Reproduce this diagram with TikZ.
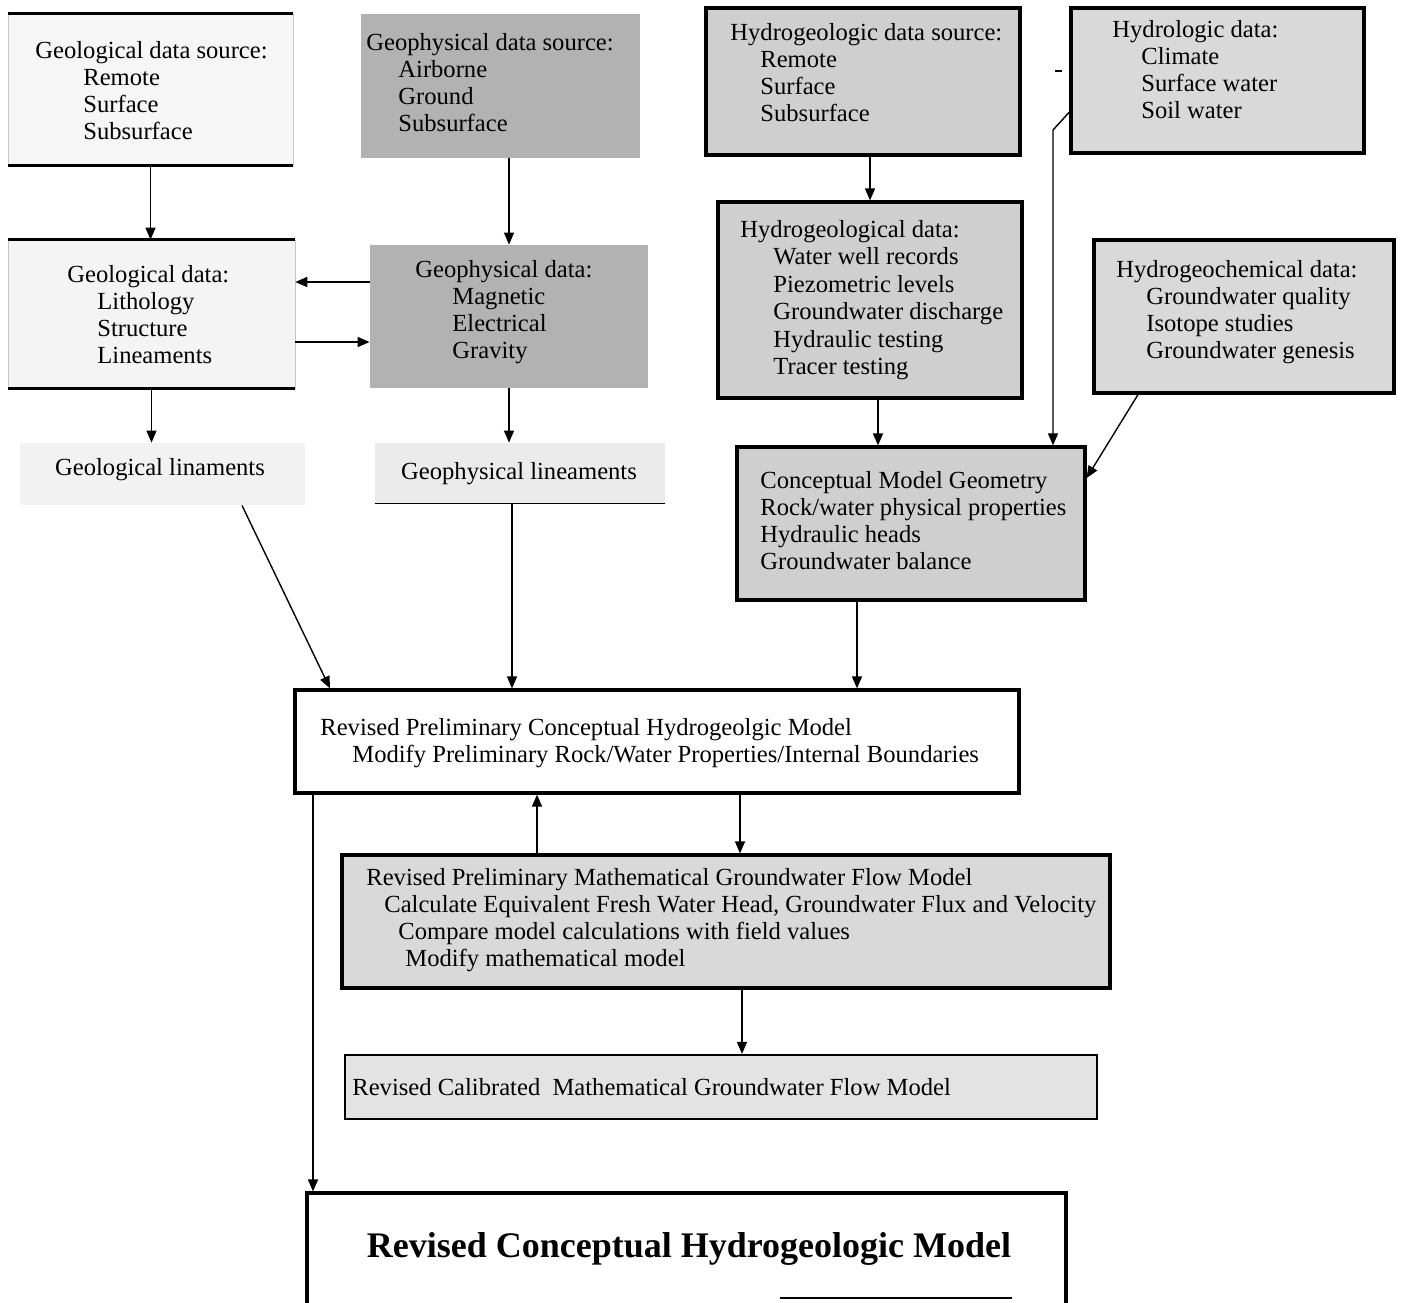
\documentclass[tikz,border=0pt]{standalone}
\usepackage{fontspec}
\setmainfont{Liberation Serif}
\usetikzlibrary{arrows.meta,fit}
\begin{document}
\begin{tikzpicture}[x=0.5pt,y=-0.5pt,
  box/.style={rectangle, inner sep=0pt},
  heavy/.style={draw=black, line width=1.6pt},
  txt/.style={inner sep=0pt, anchor=north west, align=left, font=\fontsize{12.3}{13.5}\selectfont},
  arr/.style={line width=0.7pt, -{Triangle[length=6pt,width=5pt]}},
  rule/.style={line width=1.4pt},
]
\useasboundingbox (0,0) rectangle (1401,1302);

% boxes
\node[box, fit={(8,14) (293,165)}, fill=gray!7, draw=gray!45, line width=0.3pt] (b1) {};
\node[box, fit={(361,14) (640,158)}, fill=gray!60] (b2) {};
\node[box, fit={(706,8) (1020,155)}, fill=gray!38, heavy] (b3) {};
\node[box, fit={(1071,8) (1364,153)}, fill=gray!30, heavy] (b4) {};
\node[box, fit={(8,240) (295,388)}, fill=gray!9, draw=gray!45, line width=0.3pt] (b5) {};
\node[box, fit={(370,245) (648,388)}, fill=gray!60] (b6) {};
\node[box, fit={(718,202) (1022,398)}, fill=gray!38, heavy] (b7) {};
\node[box, fit={(1094,240) (1394,393)}, fill=gray!30, heavy] (b8) {};
\node[box, fit={(20,443) (305,505)}, fill=gray!10] (b9) {};
\node[box, fit={(375,443) (665,503)}, fill=gray!16] (b10) {};
\node[box, fit={(737,447) (1085,600)}, fill=gray!38, heavy] (b11) {};
\node[box, fit={(295,690) (1019,793)}, fill=white, heavy] (b12) {};
\node[box, fit={(342,855) (1110,988)}, fill=gray!30, heavy] (b13) {};
\node[box, fit={(345,1055) (1097,1119)}, fill=gray!22, draw=black, line width=1.1pt] (b14) {};
\node[box, fit={(307,1193) (1066,1315)}, heavy] (b15) {};

% heavy top/bottom rules of the light boxes
\draw[rule] (b1.north west) -- (b1.north east);
\draw[rule] (b1.south west) -- (b1.south east);
\draw[rule] (b5.north west) -- (b5.north east);
\draw[rule] (b5.south west) -- (b5.south east);
\draw[line width=0.8pt] (b10.south west) -- (b10.south east);

% small marks seen in the reference
\draw[line width=1pt] (1055,71) -- (1062,71);
\draw[line width=1pt] (780,1298) -- (1012,1298);

% texts (first-line tops)
\node[txt] (t1) at (35,41) {Geological data source:\\\hspace*{24pt}Remote\\\hspace*{24pt}Surface\\\hspace*{24pt}Subsurface};
\node[txt] (t2) at (366,33) {Geophysical data source:\\\hspace*{16pt}Airborne\\\hspace*{16pt}Ground\\\hspace*{16pt}Subsurface};
\node[txt] (t3) at (730,23) {Hydrogeologic data source:\\\hspace*{15pt}Remote\\\hspace*{15pt}Surface\\\hspace*{15pt}Subsurface};
\node[txt] (t4) at (1112,20) {Hydrologic data:\\\hspace*{14.5pt}Climate\\\hspace*{14.5pt}Surface water\\\hspace*{14.5pt}Soil water};
\node[txt] (t5) at (67,265) {Geological data:\\\hspace*{15pt}Lithology\\\hspace*{15pt}Structure\\\hspace*{15pt}Lineaments};
\node[txt] (t6) at (415,260) {Geophysical data:\\\hspace*{18.5pt}Magnetic\\\hspace*{18.5pt}Electrical\\\hspace*{18.5pt}Gravity};
\node[txt, font=\fontsize{12.3}{13.7}\selectfont] (t7) at (740,220) {Hydrogeological data:\\\hspace*{16.5pt}Water well records\\\hspace*{16.5pt}Piezometric levels\\\hspace*{16.5pt}Groundwater discharge\\\hspace*{16.5pt}Hydraulic testing\\\hspace*{16.5pt}Tracer testing};
\node[txt] (t8) at (1116,260) {Hydrogeochemical data:\\\hspace*{15pt}Groundwater quality\\\hspace*{15pt}Isotope studies\\\hspace*{15pt}Groundwater genesis};
\node[txt, anchor=base] (t9) at (160,475) {Geological linaments};
\node[txt, anchor=base] (t10) at (519,479) {Geophysical lineaments};
\node[txt] (t11) at (760,471) {Conceptual Model Geometry\\Rock/water physical properties\\Hydraulic heads\\Groundwater balance};
\node[txt] (t12) at (320,718) {Revised Preliminary Conceptual Hydrogeolgic Model\\\hspace*{16pt}Modify Preliminary Rock/Water Properties/Internal Boundaries};
\node[txt] (t13) at (366,868) {Revised Preliminary Mathematical Groundwater Flow Model\\\hspace*{9pt}Calculate Equivalent Fresh Water Head, Groundwater Flux and Velocity\\\hspace*{16pt}Compare model calculations with field values\\\hspace*{19.5pt}Modify mathematical model};
\node[txt, anchor=base west] (t14) at (352,1095) {Revised Calibrated\ \ Mathematical Groundwater Flow Model};
\node[txt, anchor=base, font=\fontsize{18}{21}\selectfont\bfseries] (t15) at (689,1257) {Revised Conceptual Hydrogeologic Model};

% connectors
\coordinate (k1) at (1053,130);
\draw[arr] (b1.south) -- (b1.south |- b5.north);
\draw[arr] (b2.south -| b6.north) -- (b6.north);
\draw[arr] (b6.west |- 0,282) -- (b5.east |- 0,282);
\draw[arr] (b5.east |- 0,342) -- (b6.west |- 0,342);
\draw[arr] (b5.south) -- (b5.south |- b9.north);
\draw[arr] (b6.south) -- (b6.south |- b10.north);
\draw[arr] (b3.south -| b7.north) -- (b7.north);
\draw[arr] (b7.south -| 878,0) -- (b11.north -| 878,0);
\draw[arr] (b4.west |- 0,112) -- (k1) -- (k1 |- b11.north);
\draw[arr] (b8.south -| 1138,0) -- (b11.east |- 0,478);
\draw[arr] (b9.south -| 242,0) -- (b12.north -| 330,0);
\draw[arr] (b10.south -| 512,0) -- (b12.north -| 512,0);
\draw[arr] (b11.south -| 857,0) -- (b12.north -| 857,0);
\draw[arr] (b12.south -| 740,0) -- (b13.north -| 740,0);
\draw[arr] (b13.north -| 537,0) -- (b12.south -| 537,0);
\draw[arr] (b13.south -| 742,0) -- (b14.north -| 742,0);
\draw[arr] (b12.south -| 313,0) -- (b15.north -| 313,0);
\end{tikzpicture}
\end{document}
